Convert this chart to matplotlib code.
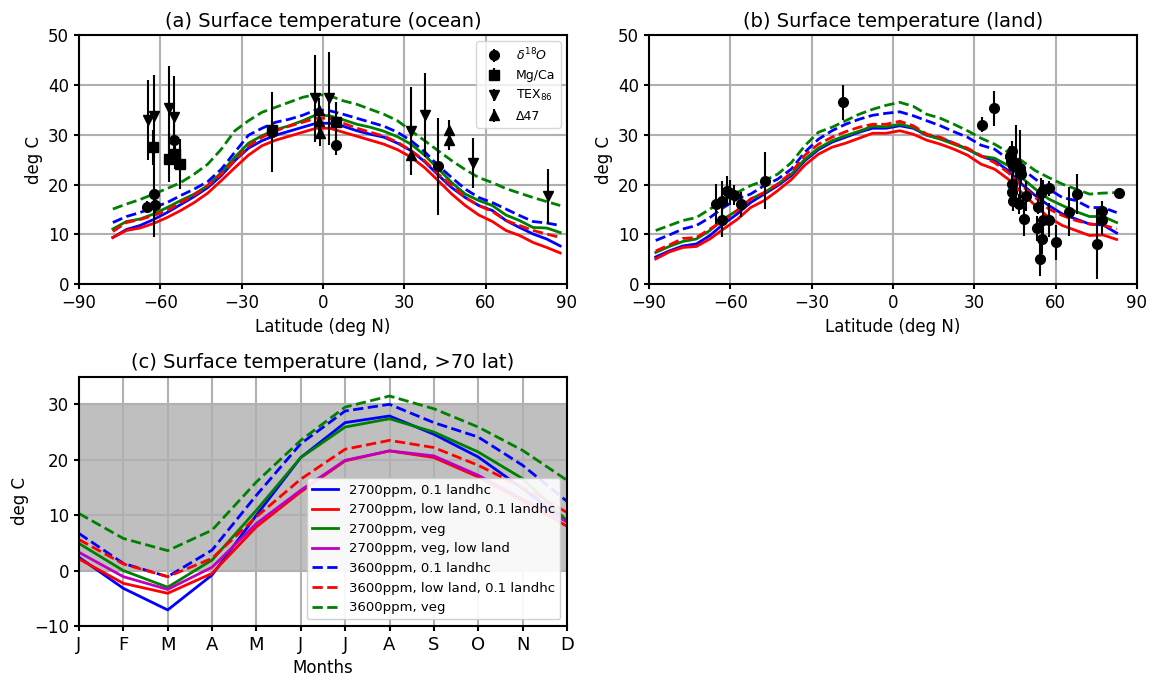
import numpy as np
import matplotlib
matplotlib.use("Agg")
import matplotlib.pyplot as plt

# ---- (a) ocean zonal means ----
lat_a = [-77.5, -72.5, -67.5, -62.5, -57.5, -52.5, -47.5, -42.5, -37.5, -32.5, -27.5, -22.5,
         -17.5, -12.5, -7.5, -2.5, 2.5, 7.5, 12.5, 17.5, 22.5, 27.5, 32.5, 37.5, 42.5, 47.5,
         52.5, 57.5, 62.5, 67.5, 72.5, 77.5, 82.5, 87.5]
a_2700_lhc = [9.4, 11.0, 11.8, 13.0, 14.4, 16.0, 17.6, 19.4, 21.8, 24.8, 27.3, 28.8, 29.9, 30.7, 31.5,
              32.3, 32.3, 31.7, 30.8, 30.1, 29.5, 28.3, 26.8, 24.6, 21.9, 19.4, 17.4, 15.8, 14.8, 12.8,
              11.4, 10.1, 9.1, 7.7]
a_2700_low = [9.4, 10.8, 11.3, 12.2, 13.4, 14.8, 16.4, 18.3, 20.8, 23.4, 25.9, 27.8, 28.9, 29.7, 30.5,
              31.3, 31.3, 30.5, 29.7, 28.9, 28.1, 27.0, 25.5, 23.4, 20.8, 18.1, 15.8, 13.9, 12.6, 10.8,
              9.8, 8.4, 7.4, 6.3]
a_2700_veg = [11.1, 12.6, 13.1, 14.1, 15.4, 16.8, 18.1, 19.8, 22.4, 25.5, 28.3, 29.8, 31.0, 31.8, 32.8,
              34.0, 33.8, 33.0, 32.1, 31.5, 30.7, 29.6, 28.1, 25.9, 23.2, 20.4, 18.1, 16.8, 15.8, 13.9,
              12.8, 11.4, 11.3, 10.4]
a_3600_lhc = [12.4, 13.6, 14.4, 15.4, 16.4, 17.8, 19.1, 20.6, 23.1, 26.5, 29.9, 31.3, 32.5, 33.1, 33.9,
              35.0, 34.8, 34.1, 33.3, 32.5, 31.7, 30.5, 28.8, 26.6, 23.8, 21.4, 19.1, 17.4, 16.4, 15.1,
              13.8, 12.6, 12.3, 11.8]
a_3600_low = [10.6, 12.4, 13.0, 13.8, 14.8, 16.4, 17.9, 19.8, 22.1, 24.8, 27.7, 29.5, 30.8, 31.7, 32.5,
              33.3, 33.3, 32.3, 31.3, 30.5, 29.7, 28.5, 26.8, 24.8, 22.1, 19.8, 17.4, 15.8, 14.6, 12.8,
              11.8, 10.8, 10.1, 9.4]
a_3600_veg = [15.1, 16.1, 17.0, 18.1, 19.2, 20.4, 22.1, 24.1, 27.1, 30.8, 32.8, 34.5, 35.5, 36.5, 37.5,
              38.1, 37.8, 36.8, 36.1, 35.1, 34.1, 32.8, 30.8, 28.8, 26.8, 24.8, 23.0, 21.4, 20.4, 19.2,
              18.3, 17.4, 16.6, 15.8]

# proxies (ocean)
d18o_lat = [-65.0, -62.3, -62.0, -54.8, -18.8, 4.8, 42.3]
d18o_val = [15.5, 18.1, 15.9, 29.0, 30.5, 28.0, 23.7]
d18o_err = [1.2, 8.7, 1.5, 3.0, 8.0, 2.0, 9.7]
mgca_lat = [-62.6, -56.7, -54.5, -52.8, -18.8, 4.8]
mgca_val = [27.5, 25.2, 26.1, 24.2, 31.0, 32.5]
mgca_err = [3.5, 4.6, 3.0, 5.0, 2.0, 4.0]
tex_lat = [-64.4, -62.2, -56.7, -54.8, -2.8, 2.1, 32.5, 37.6, 55.2, 82.9]
tex_val = [33.0, 33.7, 35.3, 33.5, 37.3, 37.3, 30.8, 34.0, 24.3, 17.7]
tex_err = [8.0, 8.3, 8.5, 8.3, 8.7, 9.3, 8.8, 8.4, 5.0, 5.5]
d47_lat = [-1.4, -1.4, -1.0, 32.5, 46.4, 46.4]
d47_val = [34.9, 32.7, 30.3, 26.0, 31.0, 29.0]
d47_err = [2.5, 2.5, 2.5, 2.5, 2.0, 2.0]

# ---- (b) land zonal means ----
lat_b = [-87.5, -82.5, -77.5, -72.5, -67.5, -62.5, -57.5, -52.5, -47.5, -42.5, -37.5, -32.5,
         -27.5, -22.5, -17.5, -12.5, -7.5, -2.5, 2.5, 7.5, 12.5, 17.5, 22.5, 27.5, 32.5, 37.5,
         42.5, 47.5, 52.5, 57.5, 62.5, 67.5, 72.5, 77.5, 82.5]
b_2700_lhc = [5.5, 6.7, 7.7, 8.1, 9.8, 12.1, 14.1, 16.4, 18.1, 19.8, 21.8, 24.8, 27.0, 28.5, 29.5,
              30.5, 31.3, 31.3, 31.8, 31.3, 29.9, 29.3, 28.3, 27.1, 25.7, 24.8, 22.8, 20.1, 17.8,
              15.8, 14.1, 13.1, 12.1, 11.9, 10.3]
b_2700_low = [5.1, 6.5, 7.4, 7.6, 9.1, 11.1, 13.0, 15.4, 16.8, 18.8, 21.0, 23.9, 26.1, 27.5, 28.3,
              29.3, 30.3, 30.3, 30.8, 30.1, 28.9, 28.1, 27.1, 25.9, 24.1, 23.1, 21.1, 18.4, 15.8,
              13.4, 11.8, 10.8, 9.8, 9.9, 9.0]
b_2700_veg = [6.4, 7.6, 8.6, 9.1, 10.8, 13.1, 14.8, 17.1, 18.4, 20.1, 22.1, 25.1, 27.3, 28.8, 29.8,
              30.7, 31.7, 31.6, 32.1, 31.5, 29.9, 29.1, 28.1, 27.1, 25.7, 25.3, 23.8, 21.4, 19.1,
              17.1, 15.8, 14.6, 13.6, 13.6, 12.4]
b_3600_lhc = [8.8, 9.9, 11.1, 11.8, 13.4, 15.4, 17.1, 18.1, 19.8, 21.1, 23.1, 26.5, 29.1, 30.8, 32.1,
              33.1, 33.9, 34.3, 34.6, 33.8, 32.8, 31.8, 30.6, 29.5, 27.9, 27.1, 25.1, 23.2, 21.1,
              19.1, 17.4, 16.8, 15.4, 15.4, 14.4]
b_3600_low = [6.7, 7.9, 9.2, 9.4, 11.1, 12.8, 14.8, 17.1, 18.4, 20.1, 22.4, 25.9, 28.1, 29.5, 30.6,
              31.5, 32.1, 32.1, 32.7, 31.8, 30.1, 29.5, 28.3, 27.3, 25.8, 24.4, 22.4, 19.8, 17.4,
              15.1, 13.8, 12.8, 12.1, 11.9, 11.1]
b_3600_veg = [10.8, 11.8, 12.8, 13.4, 15.1, 16.8, 18.4, 19.8, 20.8, 22.1, 24.4, 27.8, 30.5, 31.5, 32.8,
              34.1, 35.1, 35.9, 36.5, 35.7, 34.1, 33.3, 32.1, 30.8, 29.3, 28.1, 26.5, 24.8, 22.8,
              21.4, 20.1, 19.1, 18.1, 18.3, 18.4]

# proxies (land)
land_lat = [-65.4, -63.2, -62.9, -61.1, -60.2, -58.6, -56.1, -47.2, -18.3, 32.7, 37.1,
            43.0, 44.0, 43.6, 44.2, 45.4, 46.7, 47.3, 44.0, 44.0, 44.2, 46.4, 49.1, 48.5,
            53.1, 53.4, 54.7, 55.3, 55.3, 55.0, 54.4, 57.5, 57.5, 60.2, 64.8, 67.8, 75.4,
            77.2, 77.2, 83.4]
land_val = [16.1, 16.8, 12.9, 18.8, 18.4, 18.0, 16.1, 20.8, 36.5, 32.0, 35.3,
            25.8, 26.8, 24.8, 23.8, 24.4, 23.4, 22.1, 20.1, 18.6, 16.8, 16.1, 17.8, 13.1,
            11.2, 15.6, 18.4, 18.9, 12.9, 9.0, 5.1, 12.9, 19.3, 8.4, 14.6, 18.2, 8.1,
            14.8, 12.9, 18.4]
land_err = [4.0, 4.0, 3.5, 3.0, 2.5, 2.0, 2.5, 5.7, 3.5, 1.5, 3.5,
            2.0, 2.0, 2.0, 2.0, 7.5, 7.5, 2.0, 2.0, 2.0, 2.0, 2.0, 3.0, 3.5,
            2.5, 1.5, 3.0, 2.0, 4.0, 3.0, 3.5, 3.5, 1.5, 3.5, 5.0, 4.0, 7.0,
            2.0, 3.0, 1.0]

# ---- (c) monthly land temperature, >70 lat ----
months = ["J", "F", "M", "A", "M", "J", "J", "A", "S", "O", "N", "D"]
c_2700_lhc = [2.4, -3.2, -7.1, -0.8, 10.0, 20.4, 26.7, 27.9, 24.6, 20.5, 14.8, 8.8]
c_2700_low = [2.1, -2.3, -4.1, -0.5, 7.9, 14.2, 19.8, 21.6, 20.4, 16.9, 12.6, 8.0]
c_2700_veg = [4.9, 0.0, -3.0, 1.9, 10.9, 20.4, 25.9, 27.4, 25.0, 21.4, 16.6, 9.0]
c_2700_veglow = [3.3, -1.1, -3.4, 0.6, 8.5, 14.5, 19.9, 21.6, 20.7, 17.2, 12.9, 8.8]
c_3600_lhc = [6.7, 1.3, -1.1, 3.7, 13.6, 22.9, 28.8, 30.0, 26.7, 24.1, 19.0, 12.5]
c_3600_low = [5.6, 1.2, -1.1, 2.2, 9.7, 16.5, 21.9, 23.5, 22.2, 19.0, 15.0, 10.5]
c_3600_veg = [10.3, 5.8, 3.6, 7.3, 16.0, 23.5, 29.5, 31.5, 29.2, 25.9, 21.7, 16.3]

plt.rcParams["font.family"] = "DejaVu Sans"
fig, axs = plt.subplots(2, 2, figsize=(11.51, 6.78), dpi=100)
fig.subplots_adjust(left=0.0686, right=0.9878, bottom=0.0767, top=0.9484,
                    wspace=0.168, hspace=0.37)
lw = 2

def zonal(ax, lat, s1, s2, s3, s4, s5, s6):
    ax.plot(lat, s1, "b-", lw=lw)
    ax.plot(lat, s2, "r-", lw=lw)
    ax.plot(lat, s3, "g-", lw=lw)
    ax.plot(lat, s4, "b--", lw=lw)
    ax.plot(lat, s5, "r--", lw=lw)
    ax.plot(lat, s6, "g--", lw=lw)
    ax.set_xlim(-90, 90)
    ax.set_ylim(0, 50)
    ax.set_xticks([-90, -60, -30, 0, 30, 60, 90])
    ax.set_xticklabels(["\u221290", "\u221260", "\u221230", "0", "30", "60", "90"])
    ax.set_xlabel("Latitude (deg N)", fontsize=12)
    ax.set_ylabel("deg C", fontsize=12)
    ax.grid(True, color="#b0b0b0", lw=1.5)
    ax.tick_params(labelsize=12, width=1.5)
    for sp in ax.spines.values():
        sp.set_linewidth(1.5)

ax = axs[0, 0]
zonal(ax, lat_a, a_2700_lhc, a_2700_low, a_2700_veg, a_3600_lhc, a_3600_low, a_3600_veg)
ekw = dict(color="k", ms=7, elinewidth=1.5, ls="none")
ax.errorbar(d18o_lat, d18o_val, yerr=d18o_err, fmt="o", label=r"$\delta^{18}O$", **ekw)
ax.errorbar(mgca_lat, mgca_val, yerr=mgca_err, fmt="s", label="Mg/Ca", **ekw)
ax.errorbar(tex_lat, tex_val, yerr=tex_err, fmt="v", label=r"TEX$_{86}$", **ekw)
ax.errorbar(d47_lat, d47_val, yerr=d47_err, fmt="^", label="\u039447", **ekw)
ax.legend(loc="upper right", fontsize=9)
ax.set_title("(a) Surface temperature (ocean)", fontsize=14)

ax = axs[0, 1]
zonal(ax, lat_b, b_2700_lhc, b_2700_low, b_2700_veg, b_3600_lhc, b_3600_low, b_3600_veg)
ax.errorbar(land_lat, land_val, yerr=land_err, fmt="o", **ekw)
ax.set_title("(b) Surface temperature (land)", fontsize=14)

ax = axs[1, 0]
x = np.arange(len(months))
ax.axhspan(0, 30, color="#bfbfbf", lw=0)
ax.plot(x, c_2700_lhc, "b-", lw=lw, label="2700ppm, 0.1 landhc")
ax.plot(x, c_2700_low, "r-", lw=lw, label="2700ppm, low land, 0.1 landhc")
ax.plot(x, c_2700_veg, "g-", lw=lw, label="2700ppm, veg")
ax.plot(x, c_2700_veglow, "m-", lw=lw, label="2700ppm, veg, low land")
ax.plot(x, c_3600_lhc, "b--", lw=lw, label="3600ppm, 0.1 landhc")
ax.plot(x, c_3600_low, "r--", lw=lw, label="3600ppm, low land, 0.1 landhc")
ax.plot(x, c_3600_veg, "g--", lw=lw, label="3600ppm, veg")
ax.set_xlim(0, 11)
ax.set_ylim(-10, 35)
ax.set_xticks(x)
ax.set_xticklabels(months, fontsize=13)
ax.set_yticks([-10, 0, 10, 20, 30])
ax.set_yticklabels(["\u221210", "0", "10", "20", "30"])
ax.set_xlabel("Months", fontsize=12)
ax.set_ylabel("deg C", fontsize=12)
ax.grid(True, color="#b0b0b0", lw=1.5)
ax.tick_params(labelsize=12, width=1.5)
ax.tick_params(axis="x", labelsize=13)
for sp in ax.spines.values():
    sp.set_linewidth(1.5)
ax.legend(loc="lower right", fontsize=9.5, framealpha=0.9)
ax.set_title("(c) Surface temperature (land, >70 lat)", fontsize=14)

axs[1, 1].axis("off")

fig.savefig("out.png", dpi=100)
